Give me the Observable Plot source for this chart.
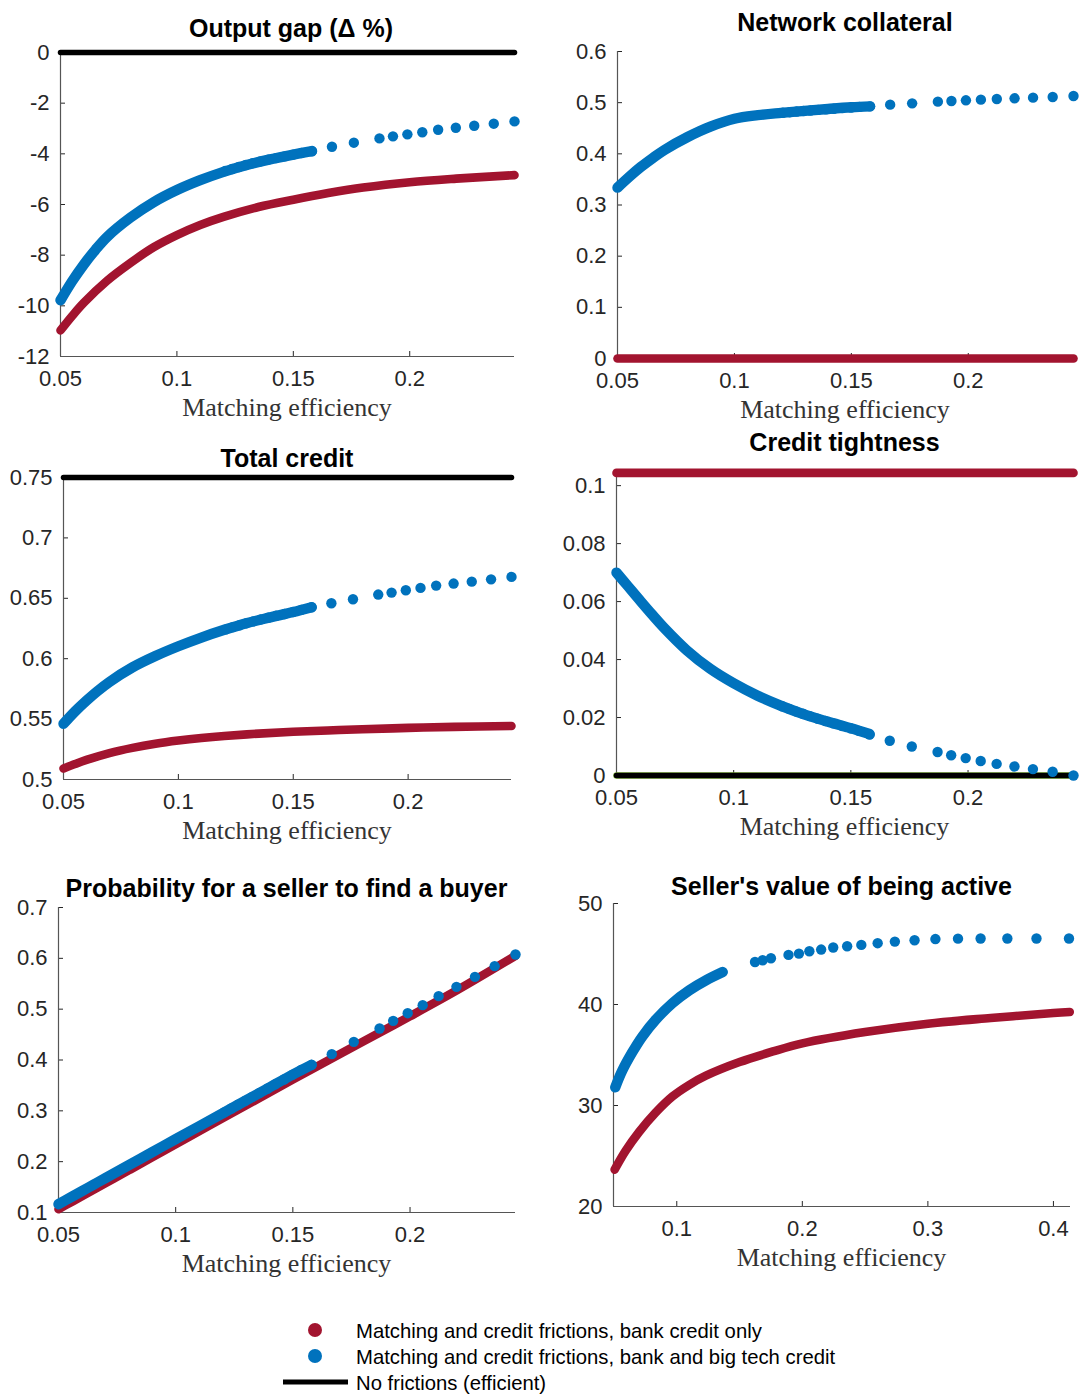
<!DOCTYPE html>
<html>
<head>
<meta charset="utf-8">
<script src="https://cdn.jsdelivr.net/npm/d3@7"></script>
<script src="https://cdn.jsdelivr.net/npm/@observablehq/plot@0.6"></script>
<style>
  html, body { margin: 0; padding: 0; background: #fff; }
  #root { position: relative; width: 1080px; height: 1394px; background: #fff; overflow: hidden;
          font-family: "Liberation Sans", Arial, sans-serif; }
  #root svg { position: absolute; overflow: visible; }
  .title { position: absolute; transform: translate(-50%, -50%); white-space: nowrap; line-height: 1;
           font-family: "Liberation Sans", Arial, sans-serif; font-weight: bold; font-size: 25px; color: #000; }
  .xlab { position: absolute; transform: translate(-50%, -50%); white-space: nowrap; line-height: 1;
          font-family: "Liberation Serif", "Times New Roman", serif; font-size: 26px; color: #333; }
  .legtext { position: absolute; transform: translateY(-50%); white-space: nowrap; line-height: 1;
             font-family: "Liberation Sans", Arial, sans-serif; font-size: 20.3px; color: #000; }
  .legdot { position: absolute; width: 14px; height: 14px; border-radius: 50%; transform: translate(-50%, -50%); }
  .legline { position: absolute; height: 5px; background: #000; transform: translateY(-50%); }
</style>
</head>
<body>
<div id="root"></div>
<script>
// ---------------- DATA ----------------
const titles = ["Output gap (\u0394 %)", "Network collateral", "Total credit", "Credit tightness",
                "Probability for a seller to find a buyer", "Seller's value of being active"];
const xLabel = "Matching efficiency";
const legendLabels = ["Matching and credit frictions, bank credit only",
                      "Matching and credit frictions, bank and big tech credit",
                      "No frictions (efficient)"];

// shared x grids (panels 1-5)
const xCurve  = [0.05, 0.055, 0.06, 0.065, 0.07, 0.08, 0.09, 0.1, 0.11, 0.12, 0.13, 0.14, 0.15, 0.158];
const xMid    = [0.1207, 0.1237, 0.1266, 0.1296, 0.1325, 0.1358, 0.1392, 0.1425, 0.1462, 0.1499, 0.1535];
const xSparse = [0.158, 0.1666, 0.176, 0.187, 0.1928, 0.199, 0.2054, 0.2122, 0.2198, 0.2277, 0.2361, 0.245];
const xBank   = [0.05, 0.055, 0.06, 0.07, 0.08, 0.09, 0.1, 0.11, 0.12, 0.135, 0.15, 0.165, 0.18, 0.2, 0.22, 0.245];
const xEff    = [0.05, 0.245];

// Output gap
const gapTechCurve = [-9.78, -9.03, -8.37, -7.79, -7.28, -6.52, -5.91, -5.43, -5.04, -4.71, -4.44, -4.22, -4.03, -3.89];
const gapTechMid   = [-4.68, -4.60, -4.52, -4.44, -4.37, -4.30, -4.23, -4.17, -4.10, -4.03, -3.97];
const gapTechDots  = [-3.90, -3.72, -3.56, -3.39, -3.31, -3.23, -3.15, -3.05, -2.97, -2.89, -2.81, -2.72];
const gapBank      = [-10.97, -10.40, -9.88, -9.01, -8.31, -7.69, -7.21, -6.81, -6.49, -6.10, -5.81, -5.55, -5.33, -5.12, -4.98, -4.84];
const gapEff       = [0, 0];

// Network collateral
const netTechCurve = [0.334, 0.355, 0.3744, 0.3915, 0.4074, 0.4329, 0.4536, 0.4685, 0.4755, 0.480, 0.484, 0.4877, 0.491, 0.4928];
const netTechMid   = [0.4803, 0.4814, 0.4826, 0.4836, 0.4847, 0.4859, 0.487, 0.488, 0.4893, 0.4906, 0.4918];
const netTechDots  = [0.4928, 0.4961, 0.4987, 0.502, 0.5033, 0.5046, 0.5059, 0.5072, 0.5085, 0.5098, 0.5111, 0.513];
const netBank      = [0, 0, 0, 0, 0, 0, 0, 0, 0, 0, 0, 0, 0, 0, 0, 0];

// Total credit
const credTechCurve = [0.5461, 0.5563, 0.5653, 0.5735, 0.5808, 0.5928, 0.6022, 0.6103, 0.6175, 0.6239, 0.6296, 0.6342, 0.6386, 0.6426];
const credTechMid   = [0.6243, 0.6261, 0.6277, 0.6294, 0.6309, 0.6325, 0.634, 0.6355, 0.637, 0.6386, 0.6404];
const credTechDots  = [0.6426, 0.6459, 0.6492, 0.6531, 0.6547, 0.6567, 0.6586, 0.6605, 0.6622, 0.6638, 0.6657, 0.6677];
const credBank      = [0.5091, 0.5128, 0.5162, 0.5219, 0.5262, 0.5296, 0.5322, 0.5343, 0.5360, 0.5380, 0.5395, 0.5406, 0.5416, 0.5427, 0.5436, 0.5443];
const credEff       = [0.75, 0.75];

// Credit tightness
const tightTechCurve = [0.0700, 0.0652, 0.0604, 0.0557, 0.0512, 0.0432, 0.0368, 0.0318, 0.0276, 0.0241, 0.0211, 0.0186, 0.0163, 0.0143];
const tightTechMid   = [0.0239, 0.0230, 0.0221, 0.0213, 0.0205, 0.0196, 0.0188, 0.0180, 0.0171, 0.0163, 0.0154];
const tightTechDots  = [0.0141, 0.0120, 0.0100, 0.0081, 0.0070, 0.0060, 0.0050, 0.0040, 0.0031, 0.0022, 0.0013, 0.0];
const tightBank      = [0.1044, 0.1044];
const tightEff       = [0, 0];

// Probability for a seller to find a buyer
const probTechCurve = [0.1164, 0.1292, 0.142, 0.1548, 0.1676, 0.1932, 0.2187, 0.2443, 0.2697, 0.2951, 0.3205, 0.346, 0.3715, 0.3905];
const probTechMid   = [0.2969, 0.3045, 0.3119, 0.3195, 0.3269, 0.3353, 0.3439, 0.3523, 0.3617, 0.3711, 0.3802];
const probTechDots  = [0.3905, 0.4115, 0.4357, 0.462, 0.477, 0.4921, 0.5079, 0.5256, 0.5439, 0.5636, 0.5846, 0.6075];
const probBank      = [0.1066, 0.1193, 0.132, 0.1575, 0.183, 0.2086, 0.2345, 0.2598, 0.2852, 0.3233, 0.3615, 0.399, 0.4365, 0.486, 0.537, 0.605];

// Seller's value of being active (own x grids)
const sellTechCurveX = [0.051, 0.0566, 0.0646, 0.0726, 0.0832, 0.0966, 0.1099, 0.1232, 0.1366];
const sellTechCurve  = [31.8, 33.46, 35.28, 36.84, 38.49, 40.14, 41.40, 42.39, 43.21];
const sellTechDotsX  = [0.1623, 0.1684, 0.175, 0.189, 0.1973, 0.2056, 0.215, 0.2246, 0.2357, 0.247, 0.26, 0.2737, 0.2894, 0.306, 0.324, 0.342, 0.3633, 0.3865, 0.4124];
const sellTechDots   = [44.21, 44.38, 44.58, 44.91, 45.04, 45.27, 45.44, 45.64, 45.77, 45.90, 46.07, 46.23, 46.36, 46.48, 46.52, 46.53, 46.53, 46.53, 46.53];
const sellBankX      = [0.0505, 0.0592, 0.0698, 0.0832, 0.0966, 0.11, 0.1232, 0.15, 0.1766, 0.2, 0.25, 0.3, 0.35, 0.4, 0.413];
const sellBank       = [23.65, 25.5, 27.35, 29.3, 30.9, 32.05, 32.95, 34.3, 35.35, 36.15, 37.27, 38.1, 38.66, 39.15, 39.25];

// tick values
const xTicksA = [0.05, 0.1, 0.15, 0.2];
const xTicksB = [0.1, 0.2, 0.3, 0.4];
const yTicksGap = [-12, -10, -8, -6, -4, -2, 0];
const yTicksNet = [0, 0.1, 0.2, 0.3, 0.4, 0.5, 0.6];
const yTicksCred = [0.5, 0.55, 0.6, 0.65, 0.7, 0.75];
const yTicksTight = [0, 0.02, 0.04, 0.06, 0.08, 0.1];
const yTicksProb = [0.1, 0.2, 0.3, 0.4, 0.5, 0.6, 0.7];
const yTicksSell = [20, 30, 40, 50];

// ---------------- STYLE ----------------
const BLUE = "#0072BD", RED = "#A2142F", BLACK = "#000000", GREEN = "#77AC30";
const DOT_R = 5.2, BLUE_W = 10.4, RED_W = 8.6, BLACK_W = 5.5;
const fmt = d => String(+(+d).toFixed(6));
const root = document.getElementById("root");

function lineMark(xs, ys, color, w) {
  return Plot.line(xs, {x: xs, y: ys, stroke: color, strokeWidth: w,
    strokeLinecap: "round", strokeLinejoin: "round", curve: "catmull-rom"});
}
function dotMark(xs, ys, color, r) {
  return Plot.dot(xs, {x: xs, y: ys, r: r, fill: color, stroke: "none"});
}

function panel(cfg) {
  const mL = 70, mR = 16, mT = 16, mB = 42;
  const w = cfg.right - cfg.left, h = cfg.bottom - cfg.top;
  const svg = Plot.plot({
    width: w + mL + mR, height: h + mT + mB,
    marginLeft: mL, marginRight: mR, marginTop: mT, marginBottom: mB,
    x: {domain: cfg.xDomain},
    y: {domain: cfg.yDomain},
    style: {fontFamily: "'Liberation Sans', Arial, sans-serif", fontSize: "22px", color: "#262626",
            background: "transparent", overflow: "visible"},
    marks: [
      Plot.axisX({ticks: cfg.xTicks, tickSize: 0, tickPadding: 14, tickFormat: fmt, label: null,
                  fontSize: 22, fill: "#262626"}),
      Plot.axisY({ticks: cfg.yTicks, tickSize: 0, tickPadding: 11, tickFormat: fmt, label: null,
                  fontSize: 22, fill: "#262626"}),
      Plot.tickX(cfg.xTicks, {x: d => d, insetTop: h - 5, stroke: "#262626", strokeWidth: 1}),
      Plot.tickY(cfg.yTicks, {y: d => d, insetRight: w - 5, stroke: "#262626", strokeWidth: 1}),
      Plot.ruleX([cfg.xDomain[0]], {stroke: "#555", strokeWidth: 1.2}),
      Plot.ruleY([cfg.yDomain[0]], {stroke: "#555", strokeWidth: 1.2}),
      ...cfg.marks
    ]
  });
  svg.style.left = (cfg.left - mL) + "px";
  svg.style.top = (cfg.top - mT) + "px";
  root.appendChild(svg);

  const t = document.createElement("div");
  t.className = "title";
  t.textContent = cfg.title;
  t.style.left = (cfg.left + w / 2 + (cfg.titleDx || 0)) + "px";
  t.style.top = cfg.titleY + "px";
  root.appendChild(t);

  const xl = document.createElement("div");
  xl.className = "xlab";
  xl.textContent = xLabel;
  xl.style.left = (cfg.left + w / 2) + "px";
  xl.style.top = (cfg.bottom + 52) + "px";
  root.appendChild(xl);
}

// Panel 1: Output gap
panel({
  left: 60, right: 514, top: 52, bottom: 356, titleY: 28, titleDx: 4,
  xDomain: [0.05, 0.245], yDomain: [-12, 0], xTicks: xTicksA, yTicks: yTicksGap, title: titles[0],
  marks: [
    lineMark(xBank, gapBank, RED, RED_W),
    lineMark(xCurve, gapTechCurve, BLUE, BLUE_W),
    dotMark(xMid, gapTechMid, BLUE, DOT_R),
    dotMark(xSparse, gapTechDots, BLUE, DOT_R),
    Plot.line(xEff, {x: xEff, y: gapEff, stroke: BLACK, strokeWidth: BLACK_W})
  ]
});

// Panel 2: Network collateral
panel({
  left: 617, right: 1073, top: 51, bottom: 358, titleY: 22,
  xDomain: [0.05, 0.245], yDomain: [0, 0.6], xTicks: xTicksA, yTicks: yTicksNet, title: titles[1],
  marks: [
    lineMark(xBank, netBank, RED, RED_W),
    lineMark(xCurve, netTechCurve, BLUE, BLUE_W),
    dotMark(xMid, netTechMid, BLUE, DOT_R),
    dotMark(xSparse, netTechDots, BLUE, DOT_R)
  ]
});

// Panel 3: Total credit
panel({
  left: 63, right: 511, top: 477, bottom: 779, titleY: 458,
  xDomain: [0.05, 0.245], yDomain: [0.5, 0.75], xTicks: xTicksA, yTicks: yTicksCred, title: titles[2],
  marks: [
    lineMark(xBank, credBank, RED, RED_W),
    lineMark(xCurve, credTechCurve, BLUE, BLUE_W),
    dotMark(xMid, credTechMid, BLUE, DOT_R),
    dotMark(xSparse, credTechDots, BLUE, DOT_R),
    Plot.line(xEff, {x: xEff, y: credEff, stroke: BLACK, strokeWidth: BLACK_W})
  ]
});

// Panel 4: Credit tightness
panel({
  left: 616, right: 1073, top: 475, bottom: 775, titleY: 442,
  xDomain: [0.05, 0.245], yDomain: [0, 0.1035], xTicks: xTicksA, yTicks: yTicksTight, title: titles[3],
  marks: [
    lineMark(xCurve, tightTechCurve, BLUE, BLUE_W),
    dotMark(xMid, tightTechMid, BLUE, DOT_R),
    Plot.line(xEff, {x: xEff, y: tightEff, stroke: GREEN, strokeWidth: 6.5, strokeLinecap: "round"}),
    Plot.line(xEff, {x: xEff, y: tightEff, stroke: BLACK, strokeWidth: BLACK_W}),
    dotMark(xSparse, tightTechDots, BLUE, DOT_R),
    lineMark(xEff, tightBank, RED, RED_W)
  ]
});

// Panel 5: Probability for a seller to find a buyer
panel({
  left: 58, right: 515, top: 907, bottom: 1212, titleY: 888,
  xDomain: [0.05, 0.245], yDomain: [0.1, 0.7], xTicks: xTicksA, yTicks: yTicksProb, title: titles[4],
  marks: [
    lineMark(xBank, probBank, RED, RED_W),
    lineMark(xCurve, probTechCurve, BLUE, BLUE_W),
    dotMark(xMid, probTechMid, BLUE, DOT_R),
    dotMark(xSparse, probTechDots, BLUE, DOT_R)
  ]
});

// Panel 6: Seller's value of being active
panel({
  left: 613, right: 1070, top: 903, bottom: 1206, titleY: 886,
  xDomain: [0.0496, 0.4136], yDomain: [20, 50], xTicks: xTicksB, yTicks: yTicksSell, title: titles[5],
  marks: [
    lineMark(sellBankX, sellBank, RED, RED_W),
    lineMark(sellTechCurveX, sellTechCurve, BLUE, BLUE_W),
    dotMark(sellTechDotsX, sellTechDots, BLUE, DOT_R)
  ]
});

// ---------------- LEGEND ----------------
const legColors = [RED, BLUE];
const legY = [1330, 1356, 1382];
legendLabels.forEach((lab, i) => {
  if (i < 2) {
    const d = document.createElement("div");
    d.className = "legdot";
    d.style.left = "315px";
    d.style.top = legY[i] + "px";
    d.style.background = legColors[i];
    root.appendChild(d);
  } else {
    const l = document.createElement("div");
    l.className = "legline";
    l.style.left = "283px";
    l.style.width = "65px";
    l.style.top = legY[i] + "px";
    root.appendChild(l);
  }
  const t = document.createElement("div");
  t.className = "legtext";
  t.textContent = lab;
  t.style.left = "356px";
  t.style.top = (legY[i] + 1) + "px";
  root.appendChild(t);
});
</script>
</body>
</html>
